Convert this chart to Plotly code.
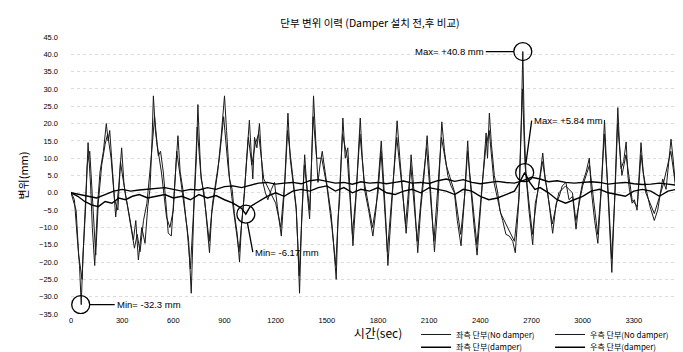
import plotly.graph_objects as go

# ---------------- data ----------------
t_left_nd = [0, 20, 35, 50, 60, 70, 85, 100, 115, 125, 139, 155, 170, 190, 207, 218, 227, 240, 250, 262,
             280, 297, 310, 317, 340, 366, 380, 395, 415, 434, 450, 463, 475, 483, 495, 512, 525, 541, 555, 570,
             588, 600, 610, 627, 640, 656, 675, 690, 705, 720, 735, 744, 755, 763, 780, 795, 812, 825, 841, 860,
             880, 900, 912, 929, 945, 958, 975, 988, 1000, 1017, 1030, 1046, 1056, 1066, 1076, 1090, 1105, 1115, 1125, 1140,
             1154, 1175, 1193, 1210, 1233, 1250, 1262, 1272, 1285, 1301, 1321, 1330, 1340, 1352, 1370, 1385, 1399, 1410, 1422, 1435,
             1448, 1460, 1473, 1490, 1506, 1525, 1540, 1555, 1565, 1575, 1594, 1608, 1623, 1640, 1653, 1670, 1685, 1696, 1708, 1721,
             1745, 1770, 1790, 1805, 1819, 1830, 1838, 1848, 1858, 1875, 1895, 1912, 1928, 1946, 1965, 1980, 1994, 2010, 2033, 2050,
             2070, 2088, 2100, 2110, 2131, 2150, 2162, 2174, 2190, 2209, 2228, 2248, 2265, 2287, 2305, 2326, 2336, 2346, 2362, 2381,
             2400, 2418, 2434, 2442, 2453, 2465, 2482, 2502, 2515, 2531, 2550, 2570, 2590, 2605, 2618, 2629, 2640, 2649, 2658, 2668,
             2685, 2707, 2722, 2736, 2750, 2766, 2780, 2795, 2810, 2824, 2845, 2863, 2880, 2902, 2920, 2941, 2961, 2980, 3000, 3020,
             3039, 3050, 3070, 3089, 3108, 3128, 3140, 3147, 3160, 3171, 3185, 3198, 3206, 3215, 3225, 3240, 3255, 3265, 3274, 3290,
             3303, 3319, 3330, 3342, 3355, 3372, 3395, 3420, 3440, 3455, 3469, 3489, 3505, 3518, 3530, 3542, 3555, 3567, 3587, 3600]
v_left_nd = [0.3, -2, -12, -21, -32.3, -18, -5, 14.5, 2, -10, -21, -4, 6, 12, 20, 15, 18, 8, 0, -7,
             2, 13, 3, 0, -6, -13.6, -8, -19.4, -10, -14.6, -4, 1, 15, 28, 18, 10.7, 12, 6, -2, -11.6,
             -12.5, -3, 5, 16.5, 6, 1, -8, -14, -29, -5, 10, 25.5, 12, 4, 0, -8, -17.3, -6, 0, 6,
             16, 28, 18, 4, 1, -6, -12, -20, -9, 0, 10, 21, 12, 4, 16, 13, 20, 10, 3, 0,
             -2, 1, 3, -4, -12.5, 0, 12, 23, 10, 3, -5, -15, -29, -8, 11, 0, -7.5, 8, 28, 15,
             3, 8, 12, 6, 1, -6, -15, -25, -8, -2, 21.6, 10, 13, -3, -15.3, -2, 10, 21.6, 10, 1,
             -5, -12.5, -4, 5, 15, 6, 0, -10, -21, -8, 5, 20.8, 10, 0, -11.7, -2, 11, 1, -17.3, -5,
             5, 16.5, 8, 0, -17, -4, 10, 20.5, 12, 5, 2, 0, -8, -15.3, -3, 15, 6, 0, -9, -18,
             -5, 8, 17.3, 10, 23, 14, 5, 0, -5, -8, -12, -12.5, -14, -17.3, -6, 0, 20, 40.8, 18, 5,
             -5, -15, -3, 0, 5, 11.5, 4, 0, -6, -11.7, -3, -1, 2, 3, -2, -1, -10.5, -2, 3, 6,
             10, 1, -8, -14.6, 0, 21, 8, 1, -12, -23, -5, 12, 24.6, 15, 7, 9, 14.7, 5, 1, -3,
             -2, -5, 4, 14.5, 6, 1, -4, -8, -5, 0, 4, 1, 8, 15.5, 10, 4, -4, -11.7, -5, -3]

t_right_nd = [0, 30, 45, 65, 80, 95, 110, 130, 145, 160, 180, 200, 215, 235, 255, 275, 290, 305, 330, 355,
              372, 388, 405, 425, 445, 470, 490, 505, 530, 560, 580, 600, 620, 645, 680, 700, 718, 740, 760, 790,
              810, 830, 870, 895, 920, 950, 985, 1010, 1040, 1060, 1080, 1100, 1130, 1170, 1200, 1230, 1255, 1270, 1295, 1320,
              1338, 1355, 1368, 1400, 1420, 1440, 1470, 1500, 1530, 1552, 1570, 1592, 1620, 1650, 1672, 1694, 1720, 1768, 1800, 1818,
              1855, 1880, 1910, 1940, 1962, 1992, 2030, 2060, 2085, 2128, 2150, 2172, 2200, 2250, 2285, 2310, 2325, 2360, 2380, 2410,
              2432, 2452, 2480, 2520, 2560, 2600, 2625, 2647, 2662, 2690, 2705, 2735, 2765, 2800, 2822, 2860, 2900, 2940, 2960, 3000,
              3040, 3088, 3110, 3127, 3150, 3170, 3190, 3205, 3230, 3254, 3290, 3320, 3342, 3370, 3420, 3470, 3517, 3545, 3566, 3600]
v_right_nd = [0, -5, -18, -25, -8, 8, 12, -6, -18, -3, 8, 14, 17, 10, -2, -5, 9, 4, -3, -10,
              -16, -12, -17, -8, -3, 10, 22, 14, 6, -7, -10, -5, 12, 3, -10, -22, -6, 19, 6, -5,
              -14, -3, 10, 22, 8, -4, -17, -4, 16, 8, 14, 17, 4, 0, -3, -10, 4, 18, 6, -4,
              -24, -4, 8, -5, 22, 10, 10, 2, -10, -21, -4, 17, 10, -12, 0, 17, 3, -10, 0, 12,
              -17, -2, 16, 2, -9, 8, -14, 2, 13, -14, 0, 16, 8, 0, -12, 0, 12, -6, -15, 2,
              13, 18, 3, -6, -10, -14, -2, 30, 8, -6, -12, 0, 9, -2, -9, 0, 2, 0, -8, 2,
              8, -12, 2, 17, 0, -19, 0, 20, 5, 11, -2, -4, 11, 0, -6, 2, 12, 2, -9, -2]

t_left_d = [0, 50, 100, 150, 200, 250, 300, 350, 400, 450, 500, 550, 600, 650, 700, 750, 800, 850, 900, 950,
            1000, 1050, 1100, 1150, 1200, 1250, 1300, 1350, 1400, 1450, 1500, 1550, 1600, 1650, 1700, 1750, 1800, 1850, 1900, 1950,
            2000, 2050, 2100, 2150, 2200, 2250, 2300, 2350, 2400, 2450, 2500, 2550, 2600, 2650, 2700, 2750, 2800, 2850, 2900, 2950,
            3000, 3050, 3100, 3150, 3200, 3250, 3300, 3350, 3400, 3450, 3500, 3550, 3600]
v_left_d = [0, -0.5, -1, -1.5, -0.5, 0.5, 1, 0.5, 0.8, 1, 1.2, 1.5, 1, 0.5, 1, 0.8, 1.5, 1, 1.8, 2,
            1.5, 2.2, 2.8, 3, 2.5, 2.8, 3, 2.6, 3.5, 3.8, 3.2, 2.8, 3, 2.5, 3.2, 2.8, 3, 2.6, 3, 3.4,
            2.8, 3, 2.7, 3.5, 4, 3.3, 3.8, 3, 2.6, 3, 3.3, 3, 2.8, 3.5, 4.5, 4, 3.2, 3.5, 3, 2.8,
            3, 3.2, 3, 2.5, 2.8, 3, 2.6, 2.4, 2.5, 2.8, 2.5, 2.2, 2.5]

t_right_d = [0, 40, 80, 120, 160, 200, 240, 280, 320, 360, 400, 450, 500, 550, 600, 650, 700, 750, 800, 850,
             900, 950, 1000, 1025, 1050, 1100, 1150, 1200, 1250, 1300, 1350, 1400, 1450, 1500, 1550, 1600, 1650, 1700, 1750, 1800,
             1850, 1900, 1950, 2000, 2050, 2100, 2150, 2200, 2250, 2300, 2350, 2400, 2450, 2500, 2550, 2600, 2630, 2660, 2690, 2720,
             2750, 2800, 2850, 2900, 2950, 3000, 3050, 3100, 3150, 3200, 3250, 3300, 3350, 3400, 3450, 3500, 3550, 3600]
v_right_d = [0, -1, -2.5, -3.5, -4, -2.5, -3, -1.5, -2, -1, -0.5, -1.5, -1, -0.5, -1.5, -1, -2, -0.5, -1.5, -0.8,
             -2, -3, -4.5, -6.17, -4, -2.5, -1, 0, -1, 0.5, 1, 0.5, 1.5, 2, 0.5, 1.5, 0, 1, 0.5, 1.5,
             0, -0.5, 0.5, 1, 0, 1.5, 1, 0.5, -0.5, 1, 0.5, -1, -2, -1.5, -0.5, 0.5, 3, 5.84, 3, 1,
             1.5, 0, -2, -3, -2, -1, 0.5, 1, 0, -0.5, -1, 0.5, 1, 0.5, -1, 0.5, 1, 0.5]

names = ["좌측 단부(No damper)", "우측 단부(No damper)", "좌측 단부(damper)", "우측 단부(damper)"]
x_ticks = [0, 300, 600, 900, 1200, 1500, 1800, 2100, 2400, 2700, 3000, 3300, 3600]

# annotated extremes: (time, value, label)
ext_max_nd = (2649, 40.8, "Max= +40.8 mm")
ext_max_d = (2660, 5.84, "Max= +5.84 mm")
ext_min_d = (1025, -6.17, "Min= -6.17 mm")
ext_min_nd = (57, -32.3, "Min= -32.3 mm")

FONT = "Liberation Sans, Arial, Noto Sans CJK KR, sans-serif"
KFONT = "Noto Sans CJK KR, Liberation Sans, sans-serif"

fig = go.Figure()
fig.add_trace(go.Scatter(x=t_left_nd, y=v_left_nd, mode="lines", name=names[0],
                         line=dict(color="#1a1a1a", width=1), legend="legend"))
fig.add_trace(go.Scatter(x=t_right_nd, y=v_right_nd, mode="lines", name=names[1],
                         line=dict(color="#1a1a1a", width=1), legend="legend"))
fig.add_trace(go.Scatter(x=t_left_d, y=v_left_d, mode="lines", name=names[2],
                         line=dict(color="#000000", width=1.4), legend="legend2"))
fig.add_trace(go.Scatter(x=t_right_d, y=v_right_d, mode="lines", name=names[3],
                         line=dict(color="#000000", width=1.4), legend="legend2"))

# circles around extremes
for (tx, vy, _) in [ext_max_nd, ext_max_d, ext_min_d, ext_min_nd]:
    fig.add_shape(type="circle", xref="x", yref="y", xsizemode="pixel", ysizemode="pixel",
                  xanchor=tx, yanchor=vy, x0=-9, x1=9, y0=-9, y1=9,
                  line=dict(color="black", width=1.3))

ann_font = dict(family=FONT, size=9.5, color="black")
fig.add_annotation(x=ext_max_nd[0], y=ext_max_nd[1], text=ext_max_nd[2], showarrow=True,
                   arrowhead=0, arrowwidth=1.3, arrowcolor="black", standoff=9,
                   ax=-37, ay=0, xanchor="right", yanchor="middle", font=ann_font)
fig.add_annotation(x=ext_max_d[0], y=ext_max_d[1], text=ext_max_d[2], showarrow=True,
                   arrowhead=0, arrowwidth=1.3, arrowcolor="black", standoff=9,
                   ax=7, ay=-52, xanchor="left", yanchor="middle", font=ann_font)
fig.add_annotation(x=ext_min_d[0], y=ext_min_d[1], text=ext_min_d[2], showarrow=True,
                   arrowhead=0, arrowwidth=1.3, arrowcolor="black", standoff=9,
                   ax=7, ay=38, xanchor="left", yanchor="middle", font=ann_font)
fig.add_annotation(x=ext_min_nd[0], y=ext_min_nd[1], text=ext_min_nd[2], showarrow=True,
                   arrowhead=0, arrowwidth=1.3, arrowcolor="black", standoff=9,
                   ax=34, ay=0, xanchor="left", yanchor="middle", font=ann_font)

leg_common = dict(orientation="h", entrywidth=89, entrywidthmode="pixels", itemwidth=30,
                  font=dict(family=KFONT, size=8, color="black"), bgcolor="rgba(0,0,0,0)",
                  xanchor="left", yanchor="middle", tracegroupgap=0)

fig.update_layout(
    width=683, height=352,
    paper_bgcolor="white", plot_bgcolor="white",
    margin=dict(l=63, r=6, t=29, b=46, autoexpand=False),
    title=dict(text="단부 변위 이력 (Damper 설치 전,후 비교)", x=0.53, xanchor="center",
               y=1 - 15 / 352, yanchor="middle", font=dict(family=KFONT, size=10.5, color="black")),
    legend=dict(x=0.562, y=-0.074, **leg_common),
    legend2=dict(x=0.562, y=-0.120, **leg_common),
    showlegend=True,
    font=dict(family=FONT, color="black"),
)
fig.update_xaxes(range=[0, 3600], tickvals=x_ticks, ticktext=[str(v) for v in x_ticks],
                 showgrid=False, zeroline=False, showline=False, ticks="",
                 ticklabeloverflow="allow",
                 tickfont=dict(family=FONT, size=7.5, color="black"),
                 title=dict(text="시간(sec)", font=dict(family=KFONT, size=12, color="black"), standoff=0),
                 automargin=False)
fig.update_yaxes(range=[-35, 45], dtick=5, tick0=0, tickformat=".1f",
                 showgrid=True, gridcolor="#dcdcdc", griddash="dot", gridwidth=1,
                 zeroline=False, showline=False, ticks="", ticklabelstandoff=12,
                 tickfont=dict(family=FONT, size=7.5, color="black"),
                 title=dict(text="변위(mm)", font=dict(family=KFONT, size=11, color="black"), standoff=8),
                 automargin=False)

fig.write_html("out.html")
